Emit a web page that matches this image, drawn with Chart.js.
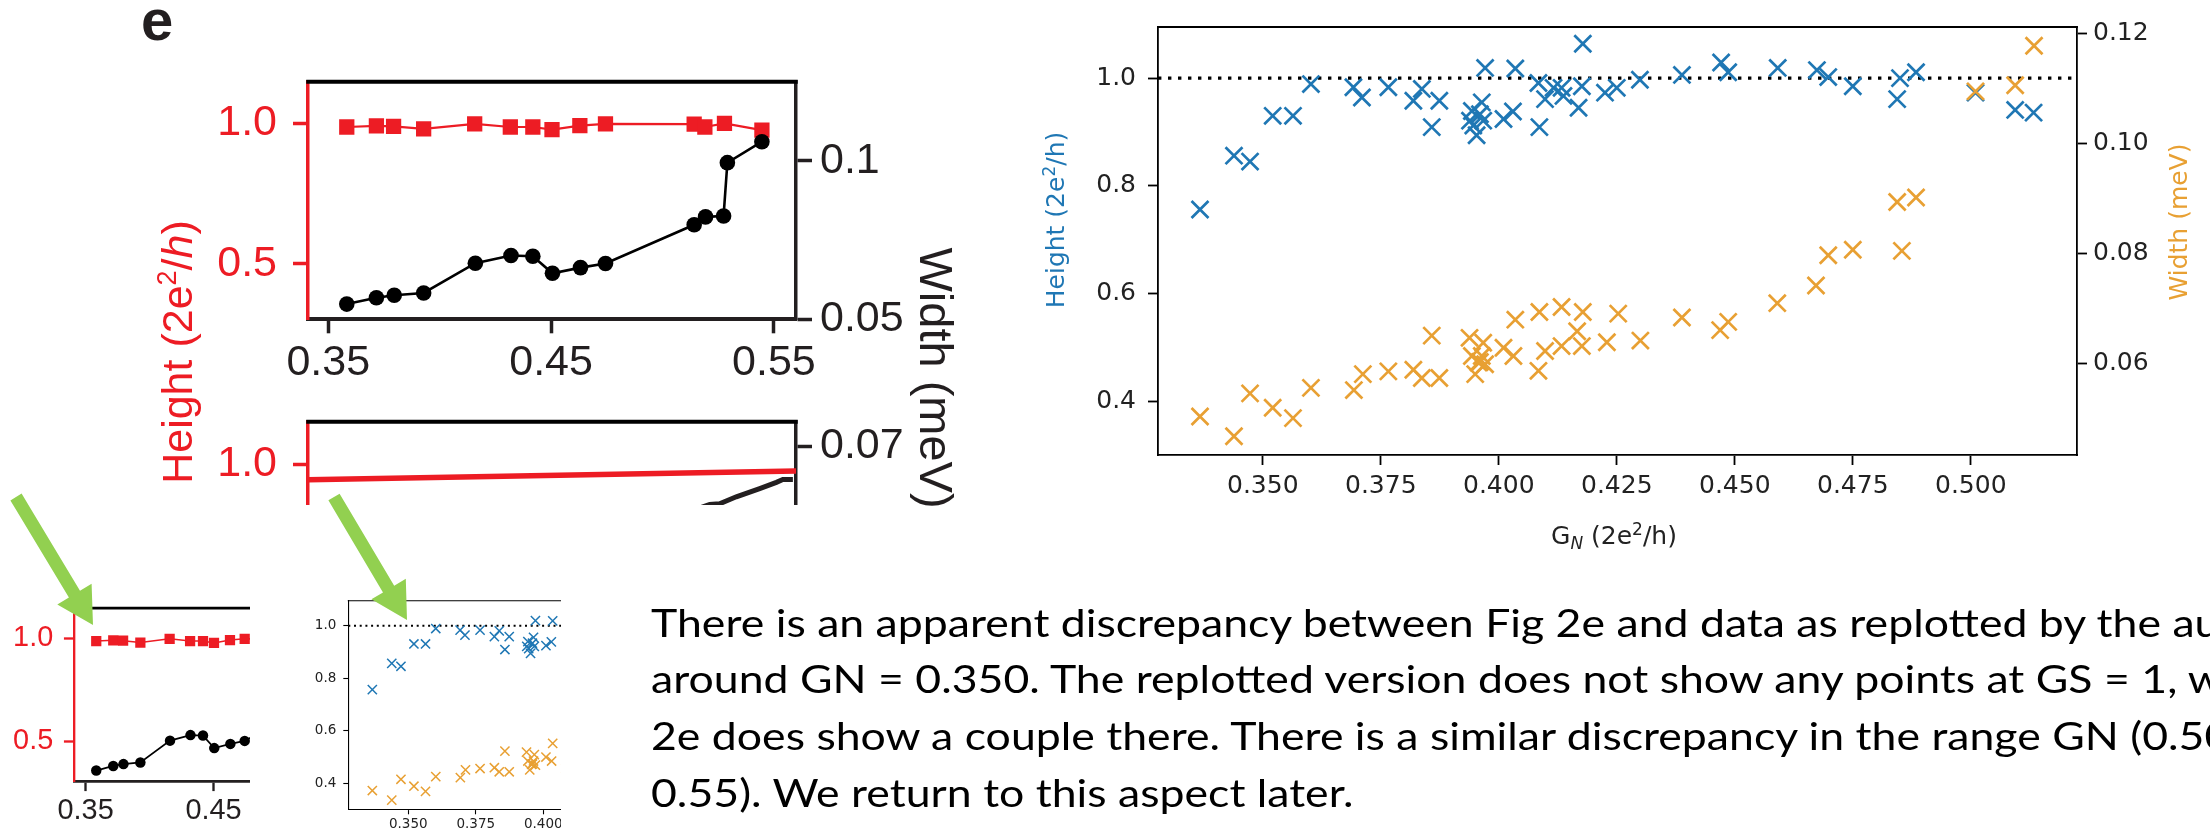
<!DOCTYPE html>
<html lang="en">
<head>
<meta charset="utf-8">
<title>Fig 2e and the replotted data</title>
<script src="https://cdn.jsdelivr.net/npm/chart.js@4.4.1/dist/chart.umd.min.js"></script>
<style>
  html, body { margin: 0; padding: 0; background: #fff; }
  body { position: relative; width: 2210px; height: 829px; overflow: hidden; }
  .clip { position: absolute; overflow: hidden; }
  .clip canvas { position: absolute; }
  #notes { position: absolute; left: 0; top: 0; }
</style>
</head>
<body>
<div class="clip" style="left:200px;top:40px;width:760px;height:350px"><canvas id="fig2eTop"></canvas></div>
<div class="clip" style="left:200px;top:380px;width:760px;height:125px"><canvas id="fig2eLow"></canvas></div>
<div class="clip" style="left:0px;top:580px;width:250px;height:249px"><canvas id="fig2eMini"></canvas></div>
<div class="clip" style="left:300px;top:580px;width:261px;height:249px"><canvas id="replotMini"></canvas></div>
<div class="clip" style="left:1000px;top:0px;width:1210px;height:520px"><canvas id="replot"></canvas></div>

<svg id="notes" width="2210" height="829" xmlns="http://www.w3.org/2000/svg">
  <text x="141" y="40" font-family="Liberation Sans, Arial, sans-serif" font-weight="bold" font-size="58" fill="#231f20">e</text>
  <text transform="translate(192,352) rotate(-90)" text-anchor="middle" font-family="Liberation Sans, Arial, sans-serif" font-size="43" fill="#ed1c24">Height (2e<tspan dy="-16" font-size="27">2</tspan><tspan dy="16">/</tspan><tspan font-style="italic">h</tspan>)</text>
  <text transform="translate(920,378) rotate(90)" text-anchor="middle" font-family="Liberation Sans, Arial, sans-serif" font-size="47" fill="#231f20">Width (meV)</text>

  <text transform="translate(1064,220) rotate(-90)" text-anchor="middle" font-family="DejaVu Sans, sans-serif" font-size="25" fill="#1f77b4">Height (2e<tspan dy="-9" font-size="17">2</tspan><tspan dy="9">/h)</tspan></text>
  <text transform="translate(2187,222) rotate(-90)" text-anchor="middle" font-family="DejaVu Sans, sans-serif" font-size="25" fill="#e8a033">Width (meV)</text>
  <text x="1614" y="544" text-anchor="middle" font-family="DejaVu Sans, sans-serif" font-size="25" fill="#222">G<tspan dy="5" font-size="17" font-style="italic">N</tspan><tspan dy="-5"> (2e</tspan><tspan dy="-9" font-size="17">2</tspan><tspan dy="9">/h)</tspan></text>

  <polygon id="arrow1" fill="#92d050"/>
  <polygon id="arrow2" fill="#92d050"/>

  <g id="para" font-family="Lato, sans-serif" font-size="39" fill="#000">
    <text id="probe" x="0" y="636.7" visibility="hidden">There is an apparent discrepancy between</text>
    <text x="0" y="636.7">There is an apparent discrepancy between Fig 2e and data as replotted by the authors</text>
    <text x="0" y="693.3">around GN = 0.350. The replotted version does not show any points at GS = 1, whereas Fig</text>
    <text x="0" y="750">2e does show a couple there. There is a similar discrepancy in the range GN (0.50,</text>
    <text x="0" y="806.7">0.55). We return to this aspect later.</text>
  </g>
</svg>

<script>
// Fig 2e as published (top panel, the points)
const gnHeight2e = [0.3583, 0.3716, 0.3793, 0.3928, 0.4157, 0.4317, 0.4418, 0.4504, 0.4629, 0.4744, 0.5142, 0.5190, 0.5278, 0.5446];
const height2e   = [0.987, 0.991, 0.989, 0.980, 0.998, 0.987, 0.987, 0.978, 0.992, 0.998, 0.997, 0.987, 1.000, 0.976];
const gnWidth2e  = [0.3583, 0.3716, 0.3796, 0.3928, 0.4160, 0.4320, 0.4418, 0.4506, 0.4632, 0.4744, 0.5142, 0.5193, 0.5274, 0.5291, 0.5446];
const width2e    = [0.0548, 0.0568, 0.0576, 0.0583, 0.0677, 0.0701, 0.0699, 0.0645, 0.0663, 0.0676, 0.0798, 0.0823, 0.0826, 0.0994, 0.1060];

// Fig 2e lower panel (only its top strip is in the picture)
const gnLowHeight = [0.341, 0.560];
const lowHeight   = [0.944, 0.976];
const gnLowWidth  = [0.4898, 0.5018, 0.5107, 0.5212, 0.5256, 0.5331, 0.5436, 0.5511, 0.5540, 0.5585];
const lowWidth    = [0.0574, 0.0594, 0.0604, 0.0616, 0.0617, 0.0627, 0.0639, 0.0648, 0.0652, 0.0652];

// replotted by the authors
const gnH = [0.3367, 0.3439, 0.3473, 0.3521, 0.3564, 0.3602, 0.3692, 0.3710, 0.3766, 0.3819, 0.3837, 0.3858, 0.3874,
             0.3939, 0.3943, 0.3946, 0.3953, 0.3960, 0.3964, 0.3967, 0.3971, 0.4010, 0.4030, 0.4035, 0.4084, 0.4086,
             0.4098, 0.4116, 0.4133, 0.4137, 0.4169, 0.4176, 0.4178, 0.4225, 0.4250, 0.4299, 0.4388, 0.4471, 0.4486,
             0.4591, 0.4674, 0.4698, 0.4750, 0.4844, 0.4850, 0.4884, 0.5010, 0.5094, 0.5133];
const heightH = [0.756, 0.856, 0.845, 0.930, 0.930, 0.989, 0.983, 0.964, 0.983, 0.958, 0.980, 0.909, 0.958,
                 0.921, 0.939, 0.912, 0.894, 0.933, 0.955, 0.921, 1.019, 0.924, 0.938, 1.018, 0.991, 0.909,
                 0.961, 0.982, 0.982, 0.967, 0.945, 0.985, 1.064, 0.973, 0.982, 0.997, 1.006, 1.029, 1.011,
                 1.019, 1.015, 1.002, 0.985, 0.961, 1.000, 1.011, 0.973, 0.941, 0.936];
const gnW = [0.3367, 0.3439, 0.3473, 0.3521, 0.3564, 0.3602, 0.3693, 0.3712, 0.3766, 0.3819, 0.3837, 0.3858, 0.3874,
             0.3938, 0.3943, 0.3950, 0.3957, 0.3960, 0.3964, 0.3967, 0.3971, 0.4010, 0.4031, 0.4035, 0.4084, 0.4086,
             0.4098, 0.4133, 0.4133, 0.4166, 0.4176, 0.4178, 0.4229, 0.4253, 0.4300, 0.4388, 0.4469, 0.4486, 0.4590,
             0.4672, 0.4698, 0.4750, 0.4854, 0.4844, 0.4884, 0.5010, 0.5094, 0.5134];
const widthW = [0.0503, 0.0467, 0.0545, 0.0519, 0.0500, 0.0555, 0.0551, 0.0580, 0.0585, 0.0588, 0.0573, 0.0650, 0.0573,
                0.0646, 0.0613, 0.0580, 0.0601, 0.0602, 0.0613, 0.0637, 0.0598, 0.0628, 0.0613, 0.0679, 0.0586, 0.0693,
                0.0622, 0.0631, 0.0702, 0.0658, 0.0631, 0.0693, 0.0638, 0.0690, 0.0641, 0.0683, 0.0660, 0.0675, 0.0709,
                0.0741, 0.0796, 0.0806, 0.0804, 0.0893, 0.0901, 0.1094, 0.1105, 0.1177];

// tick labels
const fig2eXTicks = [0.35, 0.45, 0.55];
const fig2eXLabels = ['0.35', '0.45', '0.55'];
const fig2eHTicks = [0.5, 1.0];
const fig2eHLabels = ['0.5', '1.0'];
const fig2eWTicks = [0.05, 0.1];
const fig2eWLabels = ['0.05', '0.1'];
const fig2eLowHTicks = [1.0];
const fig2eLowHLabels = ['1.0'];
const fig2eLowWTicks = [0.07];
const fig2eLowWLabels = ['0.07'];
const replotXTicks = [0.350, 0.375, 0.400, 0.425, 0.450, 0.475, 0.500];
const replotXLabels = ['0.350', '0.375', '0.400', '0.425', '0.450', '0.475', '0.500'];
const replotHTicks = [0.4, 0.6, 0.8, 1.0];
const replotHLabels = ['0.4', '0.6', '0.8', '1.0'];
const replotWTicks = [0.06, 0.08, 0.10, 0.12];
const replotWLabels = ['0.06', '0.08', '0.10', '0.12'];

const RED = '#ed1c24', INK = '#231f20', BLUE = '#1f77b4', GOLD = '#e8a033';

// top edge of the frame (the axes give the other three sides)
const framePlugin = {
  id: 'frame',
  afterDraw(chart, args, o) {
    if (!o.color) return;
    const a = chart.chartArea, ctx = chart.ctx;
    ctx.save();
    ctx.strokeStyle = o.color;
    ctx.lineWidth = o.width;
    ctx.beginPath();
    ctx.moveTo(a.left - o.ext, a.top);
    ctx.lineTo(a.right + o.ext, a.top);
    ctx.stroke();
    ctx.restore();
  }
};
// dotted line at height 1
const refLinePlugin = {
  id: 'refLine',
  beforeDatasetsDraw(chart, args, o) {
    if (o.value === undefined) return;
    const a = chart.chartArea, ctx = chart.ctx;
    const y = chart.scales.y.getPixelForValue(o.value);
    ctx.save();
    ctx.strokeStyle = '#000';
    ctx.lineWidth = o.width;
    ctx.setLineDash(o.dash);
    ctx.beginPath();
    ctx.moveTo(a.left, y);
    ctx.lineTo(a.right, y);
    ctx.stroke();
    ctx.restore();
  }
};
Chart.register(framePlugin, refLinePlugin);

function pts(xs, ys) { return xs.map((x, i) => ({ x: x, y: ys[i] })); }

function mount(id, box) {
  const cv = document.getElementById(id);
  const clip = cv.parentElement;
  cv.width = box.w;
  cv.height = box.h;
  cv.style.left = (box.x - clip.offsetLeft) + 'px';
  cv.style.top = (box.y - clip.offsetTop) + 'px';
  return cv;
}

function axis(kind, box, o) {
  const a = box.area;
  const ax = {
    type: 'linear', position: kind, min: o.min, max: o.max, display: o.show !== false,
    afterBuildTicks: sc => { sc.ticks = o.ticks.map(v => ({ value: v })); },
    ticks: { callback: (v, i) => o.labels[i], color: o.color, font: o.font, padding: o.pad, maxRotation: 0, autoSkip: false },
    grid: { drawOnChartArea: false, tickLength: o.tl, tickWidth: o.tw, tickColor: o.tick || o.color, color: o.tick || o.color },
    border: { color: o.border || o.color, width: o.bw }
  };
  if (kind === 'left') ax.afterFit = sc => { sc.width = a.l - box.x; };
  if (kind === 'right') ax.afterFit = sc => { sc.width = box.x + box.w - a.r; };
  if (kind === 'bottom') ax.afterFit = sc => { sc.height = box.y + box.h - a.b; };
  return ax;
}

function baseOptions(box, scales, plugins, hideRight, hideX) {
  const a = box.area;
  return {
    responsive: false, animation: false, events: [],
    layout: { autoPadding: false, padding: {
      top: a.t - box.y, left: 0,
      right: hideRight ? box.x + box.w - a.r : 0,
      bottom: hideX ? box.y + box.h - a.b : 0 } },
    plugins: Object.assign({ legend: { display: false }, tooltip: { enabled: false } }, plugins),
    scales: scales
  };
}

// ---------- Fig 2e, published panel (s = size factor) ----------
function fig2eChart(id, box, s, showRight) {
  const f = { family: 'Liberation Sans, Arial, sans-serif', size: 43 * s };
  const scales = {
    x: axis('bottom', box, { min: 0.3409, max: 0.5599, ticks: fig2eXTicks, labels: fig2eXLabels, color: INK, font: f,
      pad: 4 * s, tl: 14 * s, tw: 3.5 * s, bw: 4 * s }),
    y: axis('left', box, { min: 0.302, max: 1.148, ticks: fig2eHTicks, labels: fig2eHLabels, color: RED, font: f,
      pad: 16 * s, tl: 15 * s, tw: 3.5 * s, bw: 3.5 * s }),
    y2: axis('right', box, { show: showRight, min: 0.05, max: 0.1249, ticks: fig2eWTicks, labels: fig2eWLabels, color: INK, font: f,
      pad: 8 * s, tl: 16 * s, tw: 3.5 * s, bw: 3.5 * s })
  };
  return new Chart(mount(id, box), {
    type: 'scatter',
    data: { datasets: [
      { data: pts(gnWidth2e, width2e), yAxisID: 'y2', order: 0, showLine: true, borderColor: '#000', borderWidth: 2.6 * s,
        pointStyle: 'circle', pointRadius: 7.8 * s, pointBackgroundColor: '#000', pointBorderWidth: 0 },
      { data: pts(gnHeight2e, height2e), yAxisID: 'y', order: 1, showLine: true, borderColor: RED, borderWidth: 2.2 * s,
        pointStyle: 'rect', pointRadius: 10.8 * s, pointBackgroundColor: RED, pointBorderWidth: 0 }
    ] },
    options: baseOptions(box, scales, { frame: { color: '#000', width: 4 * s, ext: 1.75 * s } }, !showRight, false)
  });
}

fig2eChart('fig2eTop', { x: 200, y: 40, w: 760, h: 350, area: { l: 308, t: 61.7, r: 796, b: 319.3 } }, 1, true);
fig2eChart('fig2eMini', { x: 0, y: 580, w: 450, h: 249, area: { l: 74, t: 606.7, r: 402, b: 781.7 } }, 0.671, false);

// lower panel of Fig 2e, cut by the slide
(function () {
  const box = { x: 200, y: 380, w: 760, h: 400, area: { l: 308, t: 396, r: 796, b: 653.6 } };
  const f = { family: 'Liberation Sans, Arial, sans-serif', size: 43 };
  const scales = {
    x: { type: 'linear', display: false, min: 0.3409, max: 0.5599 },
    y: axis('left', box, { min: 0.3096, max: 1.155, ticks: fig2eLowHTicks, labels: fig2eLowHLabels, color: RED, font: f,
      pad: 16, tl: 15, tw: 3.5, bw: 3.5 }),
    y2: axis('right', box, { min: 0.04, max: 0.07356, ticks: fig2eLowWTicks, labels: fig2eLowWLabels, color: INK, font: f,
      pad: 8, tl: 16, tw: 3.5, bw: 3.5 })
  };
  new Chart(mount('fig2eLow', box), {
    type: 'scatter',
    data: { datasets: [
      { data: pts(gnLowWidth, lowWidth), yAxisID: 'y2', order: 0, showLine: true, borderColor: '#231f20', borderWidth: 5, pointRadius: 0 },
      { data: pts(gnLowHeight, lowHeight), yAxisID: 'y', order: 1, showLine: true, borderColor: RED, borderWidth: 5.5, pointRadius: 0 }
    ] },
    options: baseOptions(box, scales, { frame: { color: '#000', width: 4, ext: 1.75 } }, false, true)
  });
})();

// ---------- replotted data ----------
function replotChart(id, box, st, showRight) {
  const f = { family: 'DejaVu Sans, sans-serif', size: st.font };
  const scales = {
    x: axis('bottom', box, { min: 0.3278, max: 0.5225, ticks: replotXTicks, labels: replotXLabels, color: '#222', font: f,
      pad: st.padX, tl: st.tl, tw: st.tw, bw: st.bw, tick: '#000', border: '#000' }),
    y: axis('left', box, { min: 0.30, max: 1.095, ticks: replotHTicks, labels: replotHLabels, color: '#222', font: f,
      pad: st.padY, tl: st.tl, tw: st.tw, bw: st.bw, tick: '#000', border: '#000' }),
    y2: axis('right', box, { show: showRight, min: 0.0433, max: 0.1211, ticks: replotWTicks, labels: replotWLabels, color: '#222', font: f,
      pad: st.padY2, tl: st.tl, tw: st.tw, bw: st.bw, tick: '#000', border: '#000' })
  };
  return new Chart(mount(id, box), {
    type: 'scatter',
    data: { datasets: [
      { label: 'Width (meV)', data: pts(gnW, widthW), yAxisID: 'y2', order: 0, pointStyle: 'crossRot',
        pointRadius: st.r, pointBorderWidth: st.lw, pointBorderColor: GOLD, pointBackgroundColor: GOLD },
      { label: 'Height', data: pts(gnH, heightH), yAxisID: 'y', order: 1, pointStyle: 'crossRot',
        pointRadius: st.r, pointBorderWidth: st.lw, pointBorderColor: BLUE, pointBackgroundColor: BLUE }
    ] },
    options: baseOptions(box, scales, {
      frame: { color: '#000', width: st.bw, ext: st.bw / 2 },
      refLine: { value: 1.0, width: st.dotW, dash: st.dash }
    }, !showRight, false)
  });
}

replotChart('replot', { x: 1000, y: 0, w: 1210, h: 520, area: { l: 1158, t: 18, r: 2077, b: 455 } },
  { font: 25, padX: 6, padY: 12, padY2: 6, tl: 10, tw: 1.8, bw: 1.8, r: 12, lw: 2.7, dotW: 3.4, dash: [3.4, 6.6] }, true);
replotChart('replotMini', { x: 300, y: 580, w: 620, h: 249, area: { l: 348.3, t: 600.7, r: 897, b: 809.3 } },
  { font: 13.5, padX: 2, padY: 7, padY2: 4, tl: 5, tw: 1.1, bw: 1.1, r: 6.5, lw: 1.5, dotW: 2, dash: [2, 3.7] }, false);

// ---------- green arrows ----------
function arrowPoints(x0, y0, x1, y1, sw, hw, hl) {
  const dx = x1 - x0, dy = y1 - y0, L = Math.hypot(dx, dy);
  const ux = dx / L, uy = dy / L, nx = -uy, ny = ux;
  const bx = x1 - ux * hl, by = y1 - uy * hl;
  return [
    [x0 + nx * sw / 2, y0 + ny * sw / 2], [bx + nx * sw / 2, by + ny * sw / 2], [bx + nx * hw / 2, by + ny * hw / 2],
    [x1, y1],
    [bx - nx * hw / 2, by - ny * hw / 2], [bx - nx * sw / 2, by - ny * sw / 2], [x0 - nx * sw / 2, y0 - ny * sw / 2]
  ].map(p => p[0].toFixed(1) + ',' + p[1].toFixed(1)).join(' ');
}
document.getElementById('arrow1').setAttribute('points', arrowPoints(16, 497, 93, 625, 13, 40, 36));
document.getElementById('arrow2').setAttribute('points', arrowPoints(334, 497, 407, 620, 13, 40, 36));

// ---------- paragraph: stretch so that "Fig 2e" lands where it does on the slide ----------
(function () {
  const probe = document.getElementById('probe');
  const s = 823 / probe.getComputedTextLength();
  document.getElementById('para').setAttribute('transform', 'translate(651,0) scale(' + s.toFixed(4) + ',1)');
})();
</script>
</body>
</html>
